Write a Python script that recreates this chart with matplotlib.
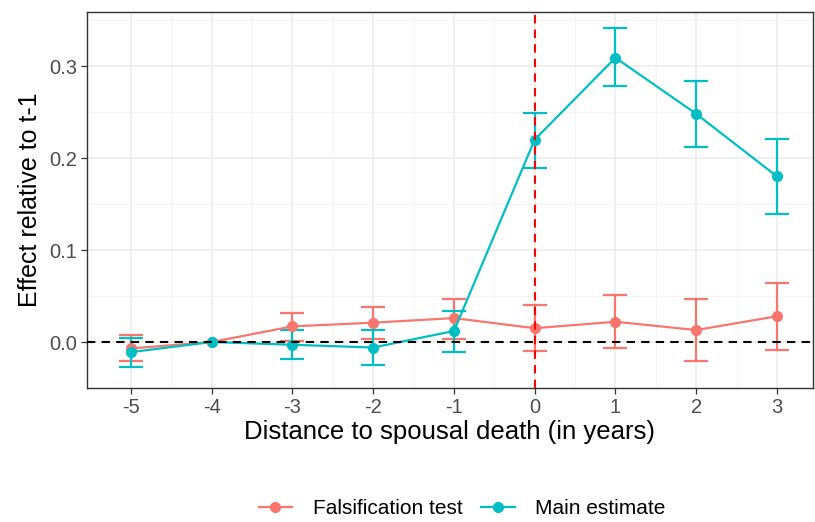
import matplotlib.pyplot as plt
from matplotlib.lines import Line2D
from matplotlib.ticker import MultipleLocator

plt.rcParams['font.family'] = ['Liberation Sans', 'DejaVu Sans']

years = [-5, -4, -3, -2, -1, 0, 1, 2, 3]

# falsification test: estimate with lower / upper bounds of the CI
fals = [-0.007, 0.0, 0.017, 0.021, 0.026, 0.015, 0.022, 0.013, 0.028]
fals_lo = [-0.021, 0.0, 0.001, 0.003, 0.003, -0.010, -0.007, -0.021, -0.009]
fals_hi = [0.008, 0.0, 0.031, 0.038, 0.047, 0.040, 0.051, 0.047, 0.064]

# main estimate
main = [-0.011, 0.0, -0.003, -0.006, 0.012, 0.220, 0.309, 0.248, 0.180]
main_lo = [-0.027, 0.0, -0.018, -0.025, -0.011, 0.189, 0.278, 0.212, 0.139]
main_hi = [0.004, 0.0, 0.013, 0.013, 0.034, 0.249, 0.341, 0.284, 0.221]

red = '#F8766D'
teal = '#00BFC4'

fig = plt.figure(figsize=(8.15, 5.22), dpi=100)
ax = fig.add_axes([0.1067, 0.2567, 0.8908, 0.7203])

for est, lo, hi, col, lab in [(fals, fals_lo, fals_hi, red, 'Falsification test'),
                               (main, main_lo, main_hi, teal, 'Main estimate')]:
    # bars at t-1 have zero width, skip them
    keep = [i for i in range(len(years)) if hi[i] > lo[i]]
    xs = [years[i] for i in keep]
    ys = [est[i] for i in keep]
    yerr = [[est[i] - lo[i] for i in keep], [hi[i] - est[i] for i in keep]]
    ax.errorbar(xs, ys, yerr=yerr, fmt='none', ecolor=col, elinewidth=1.6,
                capsize=8.3, capthick=1.6, zorder=3)
    ax.plot(years, est, '-o', color=col, lw=1.6, ms=7, zorder=4, label=lab)

ax.axhline(0, color='black', lw=1.5, ls=(0, (4, 3)), zorder=5)
ax.axvline(0, color='red', lw=1.5, ls=(0, (4, 3)), zorder=5)

ax.set_xlim(-5.545, 3.446)
ax.set_ylim(-0.05, 0.3587)
ax.set_xticks(years)
ax.set_xticklabels([str(y) for y in years])
ax.set_yticks([0.0, 0.1, 0.2, 0.3])
ax.set_yticklabels(['0.0', '0.1', '0.2', '0.3'])
ax.xaxis.set_minor_locator(MultipleLocator(0.5))
ax.set_yticks([-0.05, 0.05, 0.15, 0.25, 0.35], minor=True)

ax.grid(which='major', color='#EBEBEB', lw=1.1)
ax.grid(which='minor', color='#F2F2F2', lw=0.6)
ax.set_axisbelow(True)
ax.tick_params(which='minor', length=0)
ax.tick_params(which='major', length=4, color='#333333', width=0.9,
               labelsize=14.5, labelcolor='#4D4D4D', pad=3)
for s in ax.spines.values():
    s.set_color('#333333')
    s.set_linewidth(1.0)

ax.set_xlabel('Distance to spousal death (in years)', fontsize=18.5, labelpad=2)
ax.set_ylabel('Effect relative to t-1', fontsize=18, labelpad=5)

handles = [Line2D([], [], color=red, marker='o', lw=1.6, ms=7),
           Line2D([], [], color=teal, marker='o', lw=1.6, ms=7)]
fig.legend(handles, ['Falsification test', 'Main estimate'], loc='center',
           bbox_to_anchor=(0.567, 0.026), ncol=2, frameon=False, fontsize=15,
           handlelength=1.6, columnspacing=0.9, handletextpad=1.0)

fig.savefig('out.png', dpi=100)
